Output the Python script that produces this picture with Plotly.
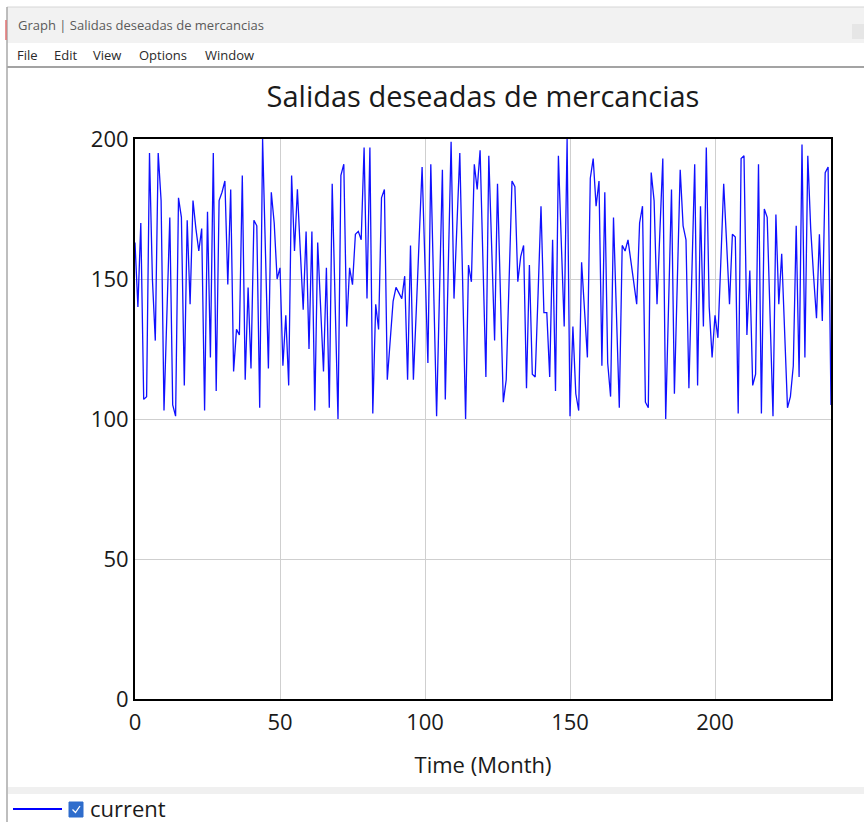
import plotly.graph_objects as go

# ---- data ----
months = list(range(0, 241))
salidas = [
    163, 140, 170, 107, 108, 195, 150, 128, 195, 178,
    103, 140, 172, 105, 101, 179, 172, 112, 171, 141,
    178, 168, 160, 168, 103, 174, 122, 195, 110, 178,
    181, 185, 148, 182, 117, 132, 130, 187, 114, 147,
    118, 171, 169, 104, 200, 159, 118, 181, 170, 150,
    154, 119, 137, 112, 187, 160, 182, 160, 139, 167,
    125, 167, 103, 163, 140, 117, 154, 104, 184, 142,
    100, 187, 191, 133, 154, 148, 166, 167, 164, 197,
    143, 197, 102, 141, 132, 179, 182, 114, 130, 142,
    147, 145, 143, 151, 114, 162, 114, 139, 165, 190,
    155, 120, 191, 146, 101, 145, 189, 107, 153, 199,
    143, 169, 195, 148, 100, 155, 149, 191, 182, 196,
    155, 115, 194, 161, 128, 184, 145, 106, 114, 150,
    185, 183, 149, 158, 162, 111, 155, 116, 115, 145,
    176, 138, 138, 115, 164, 110, 194, 163, 133, 200,
    101, 133, 109, 103, 156, 139, 122, 186, 193, 176,
    185, 119, 181, 120, 108, 172, 138, 104, 162, 160,
    164, 156, 150, 141, 170, 176, 106, 104, 188, 178,
    141, 167, 193, 100, 141, 182, 109, 149, 189, 169,
    164, 111, 151, 191, 112, 176, 133, 197, 140, 122,
    137, 129, 156, 184, 163, 141, 166, 165, 102, 193,
    194, 130, 153, 112, 116, 191, 102, 175, 172, 136,
    101, 173, 141, 159, 131, 104, 108, 119, 169, 115,
    198, 122, 194, 168, 151, 136, 166, 135, 188, 190,
    105,
]
x_ticks = [0, 50, 100, 150, 200]
y_ticks = [0, 50, 100, 150, 200]
title_text = "Salidas deseadas de mercancias"
window_title = "Graph | Salidas deseadas de mercancias"
menu_items = ["File", "Edit", "View", "Options", "Window"]
series_name = "current"

# ---- geometry helpers (pixel -> paper) ----
W, H = 864, 822
L, R, T, B = 135, 831, 139, 699


def px(p):
    return (p - L) / (R - L)


def py(p):
    return (B - p) / (B - T)


FONT = "Open Sans, Noto Sans, sans-serif"

fig = go.Figure()
fig.add_trace(go.Scatter(
    x=months, y=salidas, mode="lines", name=series_name,
    line=dict(color="#1010ff", width=1.3), showlegend=False,
))

shapes = []
annotations = []

# window chrome
shapes.append(dict(type="rect", xref="paper", yref="paper",
                   x0=px(7), x1=px(864), y0=py(43), y1=py(7),
                   fillcolor="#f2f2f2", line=dict(width=0), layer="below"))
shapes.append(dict(type="line", xref="paper", yref="paper",
                   x0=px(7), x1=px(864), y0=py(7), y1=py(7),
                   line=dict(color="#d6d6d6", width=1)))
shapes.append(dict(type="rect", xref="paper", yref="paper",
                   x0=px(852), x1=px(864), y0=py(39), y1=py(24),
                   fillcolor="#e6e6e6", line=dict(width=0)))
shapes.append(dict(type="line", xref="paper", yref="paper",
                   x0=px(7), x1=px(864), y0=py(67), y1=py(67),
                   line=dict(color="#a3a3a3", width=2)))
shapes.append(dict(type="line", xref="paper", yref="paper",
                   x0=px(7), x1=px(7), y0=py(822), y1=py(7),
                   line=dict(color="#a8a8a8", width=1.5)))
shapes.append(dict(type="line", xref="paper", yref="paper",
                   x0=px(6), x1=px(6), y0=py(40), y1=py(20),
                   line=dict(color="#e07070", width=1.5)))
shapes.append(dict(type="rect", xref="paper", yref="paper",
                   x0=px(8), x1=px(864), y0=py(794), y1=py(787),
                   fillcolor="#f0f0f0", line=dict(width=0)))
# legend
shapes.append(dict(type="line", xref="paper", yref="paper",
                   x0=px(13), x1=px(62), y0=py(809), y1=py(809),
                   line=dict(color="#0000ff", width=2)))
shapes.append(dict(type="rect", xref="paper", yref="paper",
                   x0=px(69), x1=px(83), y0=py(817), y1=py(802),
                   fillcolor="#2f6dcc", line=dict(color="#2f6dcc", width=1)))
shapes.append(dict(type="path", xref="paper", yref="paper",
                   path=f"M {px(72.5)},{py(809.5)} L {px(75.5)},{py(812.5)} L {px(80)},{py(806)}",
                   line=dict(color="white", width=1.3)))

annotations.append(dict(text=window_title, xref="paper", yref="paper",
                        x=px(16), y=py(25), xanchor="left", yanchor="middle",
                        showarrow=False, font=dict(family=FONT, size=13, color="#5a5a5a")))
menu_x = [15, 52, 91, 137, 203]
for name, mx in zip(menu_items, menu_x):
    annotations.append(dict(text=name, xref="paper", yref="paper",
                            x=px(mx), y=py(55), xanchor="left", yanchor="middle",
                            showarrow=False, font=dict(family=FONT, size=13, color="#2a2a2a")))
annotations.append(dict(text=series_name, xref="paper", yref="paper",
                        x=px(88), y=py(808), xanchor="left", yanchor="middle",
                        showarrow=False, font=dict(family=FONT, size=22, color="#1a1a1a")))

fig.update_layout(
    width=W, height=H, autosize=False,
    margin=dict(l=L, r=W - R, t=T, b=H - B, pad=0),
    paper_bgcolor="white", plot_bgcolor="white",
    font=dict(family=FONT, color="#1a1a1a"),
    title=dict(text=title_text, x=0.5, xref="paper", xanchor="center",
               y=1 - 97 / H, yref="container", yanchor="middle",
               font=dict(family=FONT, size=29, color="#1a1a1a")),
    shapes=shapes, annotations=annotations,
    showlegend=False,
)
fig.update_xaxes(
    range=[0, 240], tickvals=x_ticks, ticktext=[str(v) for v in x_ticks],
    showgrid=True, gridcolor="#cfcfcf", gridwidth=1,
    showline=True, linecolor="black", linewidth=2, mirror=True,
    zeroline=False, ticks="", ticklabelstandoff=3,
    tickfont=dict(family=FONT, size=22, color="#1a1a1a"),
    title=dict(text="Time (Month)", standoff=22,
               font=dict(family=FONT, size=22, color="#1a1a1a")),
)
fig.update_yaxes(
    range=[0, 200], tickvals=y_ticks, ticktext=[str(v) for v in y_ticks],
    showgrid=True, gridcolor="#cfcfcf", gridwidth=1,
    showline=True, linecolor="black", linewidth=2, mirror=True,
    zeroline=False, ticks="", ticklabelstandoff=0,
    tickfont=dict(family=FONT, size=22, color="#1a1a1a"),
)

fig.write_html("out.html", config={"displayModeBar": False})

# remove the default 8px body margin so the figure sits at the page origin
with open("out.html", "r", encoding="utf-8") as f:
    html = f.read()
html = html.replace("<head>", "<head><style>html,body{margin:0;padding:0;overflow:hidden;}</style>", 1)
with open("out.html", "w", encoding="utf-8") as f:
    f.write(html)
